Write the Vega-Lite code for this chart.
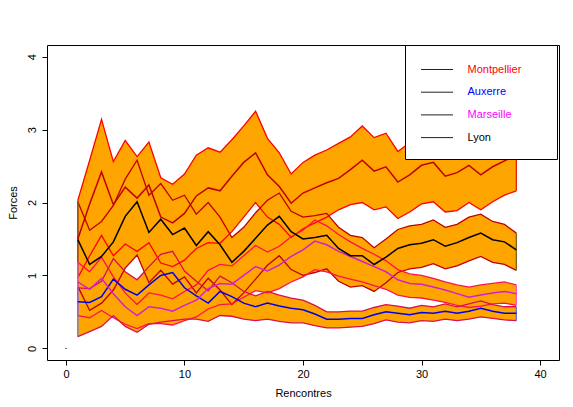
{
"$schema":"https://vega.github.io/schema/vega-lite/v6.json",
"width":512,"height":315,
"autosize":{"type":"none"},
"padding":{"left":47,"top":45,"right":14,"bottom":47},
"background":"white",
"config":{"view":{"stroke":"black","strokeWidth":1},"font":"Liberation Sans",
 "axis":{"grid":false,"domain":false,"tickColor":"black","tickSize":5,"labelColor":"black","titleColor":"black","labelFont":"Liberation Sans","titleFont":"Liberation Sans","labelFontSize":11,"titleFontSize":11,"titleFontWeight":"normal"}},
"datasets":{
"bands":[
{"t":"Montpellier","g":1,"lo":0.97,"m":1.50,"hi":2.03},{"t":"Montpellier","g":2,"lo":1.27,"m":1.98,"hi":2.58},{"t":"Montpellier","g":3,"lo":1.55,"m":2.42,"hi":3.14},{"t":"Montpellier","g":4,"lo":1.27,"m":1.97,"hi":2.56},{"t":"Montpellier","g":5,"lo":1.43,"m":2.21,"hi":2.85},{"t":"Montpellier","g":6,"lo":1.33,"m":2.06,"hi":2.63},{"t":"Montpellier","g":7,"lo":1.45,"m":2.24,"hi":2.83},{"t":"Montpellier","g":8,"lo":1.17,"m":1.80,"hi":2.34},{"t":"Montpellier","g":9,"lo":1.12,"m":1.72,"hi":2.25},{"t":"Montpellier","g":10,"lo":1.21,"m":1.85,"hi":2.39},{"t":"Montpellier","g":11,"lo":1.37,"m":2.09,"hi":2.65},{"t":"Montpellier","g":12,"lo":1.45,"m":2.20,"hi":2.75},{"t":"Montpellier","g":13,"lo":1.44,"m":2.16,"hi":2.69},{"t":"Montpellier","g":14,"lo":1.60,"m":2.36,"hi":2.86},{"t":"Montpellier","g":15,"lo":1.80,"m":2.55,"hi":3.05},{"t":"Montpellier","g":16,"lo":2.00,"m":2.68,"hi":3.25},{"t":"Montpellier","g":17,"lo":1.80,"m":2.38,"hi":2.88},{"t":"Montpellier","g":18,"lo":1.70,"m":2.22,"hi":2.68},{"t":"Montpellier","g":19,"lo":1.52,"m":1.99,"hi":2.39},{"t":"Montpellier","g":20,"lo":1.64,"m":2.13,"hi":2.55},{"t":"Montpellier","g":21,"lo":1.72,"m":2.20,"hi":2.65},{"t":"Montpellier","g":22,"lo":1.80,"m":2.27,"hi":2.72},{"t":"Montpellier","g":23,"lo":1.90,"m":2.33,"hi":2.81},{"t":"Montpellier","g":24,"lo":1.97,"m":2.45,"hi":2.90},{"t":"Montpellier","g":25,"lo":2.00,"m":2.58,"hi":3.05},{"t":"Montpellier","g":26,"lo":1.90,"m":2.43,"hi":2.89},{"t":"Montpellier","g":27,"lo":1.94,"m":2.49,"hi":2.95},{"t":"Montpellier","g":28,"lo":1.78,"m":2.28,"hi":2.70},{"t":"Montpellier","g":29,"lo":1.87,"m":2.38,"hi":2.82},{"t":"Montpellier","g":30,"lo":1.98,"m":2.51,"hi":2.96},{"t":"Montpellier","g":31,"lo":2.01,"m":2.55,"hi":3.00},{"t":"Montpellier","g":32,"lo":1.87,"m":2.36,"hi":2.80},{"t":"Montpellier","g":33,"lo":1.89,"m":2.41,"hi":2.86},{"t":"Montpellier","g":34,"lo":2.00,"m":2.51,"hi":2.96},{"t":"Montpellier","g":35,"lo":1.90,"m":2.38,"hi":2.82},{"t":"Montpellier","g":36,"lo":2.01,"m":2.49,"hi":2.94},{"t":"Montpellier","g":37,"lo":2.10,"m":2.57,"hi":3.02},{"t":"Montpellier","g":38,"lo":2.16,"m":2.65,"hi":3.10},
{"t":"Lyon","g":1,"lo":0.85,"m":1.49,"hi":2.01},{"t":"Lyon","g":2,"lo":0.52,"m":1.15,"hi":1.62},{"t":"Lyon","g":3,"lo":0.62,"m":1.26,"hi":1.74},{"t":"Lyon","g":4,"lo":0.80,"m":1.46,"hi":1.96},{"t":"Lyon","g":5,"lo":1.10,"m":1.81,"hi":2.32},{"t":"Lyon","g":6,"lo":1.28,"m":2.01,"hi":2.58},{"t":"Lyon","g":7,"lo":0.90,"m":1.59,"hi":2.10},{"t":"Lyon","g":8,"lo":1.07,"m":1.77,"hi":2.26},{"t":"Lyon","g":9,"lo":0.88,"m":1.56,"hi":2.03},{"t":"Lyon","g":10,"lo":0.98,"m":1.65,"hi":2.10},{"t":"Lyon","g":11,"lo":0.76,"m":1.41,"hi":1.84},{"t":"Lyon","g":12,"lo":0.96,"m":1.60,"hi":2.00},{"t":"Lyon","g":13,"lo":0.80,"m":1.42,"hi":1.80},{"t":"Lyon","g":14,"lo":0.60,"m":1.18,"hi":1.52},{"t":"Lyon","g":15,"lo":0.76,"m":1.33,"hi":1.66},{"t":"Lyon","g":16,"lo":0.95,"m":1.51,"hi":1.86},{"t":"Lyon","g":17,"lo":1.14,"m":1.69,"hi":2.03},{"t":"Lyon","g":18,"lo":1.27,"m":1.81,"hi":2.13},{"t":"Lyon","g":19,"lo":1.08,"m":1.60,"hi":1.88},{"t":"Lyon","g":20,"lo":1.00,"m":1.50,"hi":1.80},{"t":"Lyon","g":21,"lo":1.04,"m":1.52,"hi":1.82},{"t":"Lyon","g":22,"lo":1.09,"m":1.55,"hi":1.85},{"t":"Lyon","g":23,"lo":0.92,"m":1.37,"hi":1.66},{"t":"Lyon","g":24,"lo":0.84,"m":1.27,"hi":1.55},{"t":"Lyon","g":25,"lo":0.86,"m":1.27,"hi":1.52},{"t":"Lyon","g":26,"lo":0.78,"m":1.15,"hi":1.38},{"t":"Lyon","g":27,"lo":0.90,"m":1.25,"hi":1.50},{"t":"Lyon","g":28,"lo":1.04,"m":1.37,"hi":1.63},{"t":"Lyon","g":29,"lo":1.09,"m":1.42,"hi":1.68},{"t":"Lyon","g":30,"lo":1.11,"m":1.44,"hi":1.70},{"t":"Lyon","g":31,"lo":1.16,"m":1.49,"hi":1.76},{"t":"Lyon","g":32,"lo":1.09,"m":1.40,"hi":1.66},{"t":"Lyon","g":33,"lo":1.13,"m":1.45,"hi":1.70},{"t":"Lyon","g":34,"lo":1.20,"m":1.52,"hi":1.80},{"t":"Lyon","g":35,"lo":1.26,"m":1.58,"hi":1.84},{"t":"Lyon","g":36,"lo":1.18,"m":1.49,"hi":1.74},{"t":"Lyon","g":37,"lo":1.15,"m":1.46,"hi":1.70},{"t":"Lyon","g":38,"lo":1.07,"m":1.35,"hi":1.58},
{"t":"Marseille","g":1,"lo":0.45,"m":0.91,"hi":1.18},{"t":"Marseille","g":2,"lo":0.42,"m":0.81,"hi":1.05},{"t":"Marseille","g":3,"lo":0.52,"m":0.96,"hi":1.25},{"t":"Marseille","g":4,"lo":0.42,"m":0.75,"hi":0.98},{"t":"Marseille","g":5,"lo":0.33,"m":0.57,"hi":0.76},{"t":"Marseille","g":6,"lo":0.27,"m":0.45,"hi":0.60},{"t":"Marseille","g":7,"lo":0.34,"m":0.57,"hi":0.76},{"t":"Marseille","g":8,"lo":0.34,"m":0.55,"hi":0.73},{"t":"Marseille","g":9,"lo":0.32,"m":0.51,"hi":0.68},{"t":"Marseille","g":10,"lo":0.38,"m":0.59,"hi":0.78},{"t":"Marseille","g":11,"lo":0.43,"m":0.66,"hi":0.87},{"t":"Marseille","g":12,"lo":0.54,"m":0.82,"hi":1.07},{"t":"Marseille","g":13,"lo":0.60,"m":0.89,"hi":1.15},{"t":"Marseille","g":14,"lo":0.61,"m":0.88,"hi":1.13},{"t":"Marseille","g":15,"lo":0.70,"m":1.00,"hi":1.27},{"t":"Marseille","g":16,"lo":0.79,"m":1.12,"hi":1.41},{"t":"Marseille","g":17,"lo":0.76,"m":1.06,"hi":1.32},{"t":"Marseille","g":18,"lo":0.82,"m":1.14,"hi":1.40},{"t":"Marseille","g":19,"lo":0.91,"m":1.26,"hi":1.53},{"t":"Marseille","g":20,"lo":0.98,"m":1.35,"hi":1.62},{"t":"Marseille","g":21,"lo":1.08,"m":1.47,"hi":1.76},{"t":"Marseille","g":22,"lo":1.05,"m":1.42,"hi":1.68},{"t":"Marseille","g":23,"lo":0.99,"m":1.33,"hi":1.56},{"t":"Marseille","g":24,"lo":0.95,"m":1.26,"hi":1.46},{"t":"Marseille","g":25,"lo":0.91,"m":1.19,"hi":1.37},{"t":"Marseille","g":26,"lo":0.86,"m":1.12,"hi":1.29},{"t":"Marseille","g":27,"lo":0.81,"m":1.05,"hi":1.20},{"t":"Marseille","g":28,"lo":0.73,"m":0.94,"hi":1.08},{"t":"Marseille","g":29,"lo":0.70,"m":0.89,"hi":1.02},{"t":"Marseille","g":30,"lo":0.69,"m":0.88,"hi":1.00},{"t":"Marseille","g":31,"lo":0.66,"m":0.84,"hi":0.96},{"t":"Marseille","g":32,"lo":0.63,"m":0.80,"hi":0.91},{"t":"Marseille","g":33,"lo":0.59,"m":0.75,"hi":0.87},{"t":"Marseille","g":34,"lo":0.56,"m":0.70,"hi":0.84},{"t":"Marseille","g":35,"lo":0.58,"m":0.73,"hi":0.87},{"t":"Marseille","g":36,"lo":0.61,"m":0.76,"hi":0.89},{"t":"Marseille","g":37,"lo":0.62,"m":0.78,"hi":0.91},{"t":"Marseille","g":38,"lo":0.59,"m":0.75,"hi":0.87},
{"t":"Auxerre","g":1,"lo":0.16,"m":0.64,"hi":0.83},{"t":"Auxerre","g":2,"lo":0.23,"m":0.63,"hi":0.82},{"t":"Auxerre","g":3,"lo":0.30,"m":0.71,"hi":0.92},{"t":"Auxerre","g":4,"lo":0.45,"m":0.95,"hi":1.23},{"t":"Auxerre","g":5,"lo":0.30,"m":0.81,"hi":1.05},{"t":"Auxerre","g":6,"lo":0.22,"m":0.73,"hi":0.94},{"t":"Auxerre","g":7,"lo":0.33,"m":0.87,"hi":1.12},{"t":"Auxerre","g":8,"lo":0.36,"m":1.00,"hi":1.29},{"t":"Auxerre","g":9,"lo":0.38,"m":1.04,"hi":1.33},{"t":"Auxerre","g":10,"lo":0.40,"m":0.83,"hi":1.06},{"t":"Auxerre","g":11,"lo":0.40,"m":0.72,"hi":0.92},{"t":"Auxerre","g":12,"lo":0.37,"m":0.62,"hi":0.79},{"t":"Auxerre","g":13,"lo":0.45,"m":0.78,"hi":0.99},{"t":"Auxerre","g":14,"lo":0.44,"m":0.71,"hi":0.90},{"t":"Auxerre","g":15,"lo":0.40,"m":0.62,"hi":0.78},{"t":"Auxerre","g":16,"lo":0.38,"m":0.57,"hi":0.72},{"t":"Auxerre","g":17,"lo":0.40,"m":0.62,"hi":0.78},{"t":"Auxerre","g":18,"lo":0.37,"m":0.58,"hi":0.73},{"t":"Auxerre","g":19,"lo":0.35,"m":0.55,"hi":0.69},{"t":"Auxerre","g":20,"lo":0.35,"m":0.53,"hi":0.66},{"t":"Auxerre","g":21,"lo":0.31,"m":0.47,"hi":0.59},{"t":"Auxerre","g":22,"lo":0.28,"m":0.40,"hi":0.50},{"t":"Auxerre","g":23,"lo":0.28,"m":0.40,"hi":0.50},{"t":"Auxerre","g":24,"lo":0.29,"m":0.41,"hi":0.51},{"t":"Auxerre","g":25,"lo":0.30,"m":0.41,"hi":0.51},{"t":"Auxerre","g":26,"lo":0.34,"m":0.46,"hi":0.56},{"t":"Auxerre","g":27,"lo":0.39,"m":0.50,"hi":0.60},{"t":"Auxerre","g":28,"lo":0.36,"m":0.48,"hi":0.58},{"t":"Auxerre","g":29,"lo":0.35,"m":0.46,"hi":0.55},{"t":"Auxerre","g":30,"lo":0.38,"m":0.49,"hi":0.59},{"t":"Auxerre","g":31,"lo":0.37,"m":0.48,"hi":0.57},{"t":"Auxerre","g":32,"lo":0.40,"m":0.51,"hi":0.61},{"t":"Auxerre","g":33,"lo":0.38,"m":0.48,"hi":0.57},{"t":"Auxerre","g":34,"lo":0.40,"m":0.51,"hi":0.61},{"t":"Auxerre","g":35,"lo":0.43,"m":0.55,"hi":0.65},{"t":"Auxerre","g":36,"lo":0.41,"m":0.51,"hi":0.60},{"t":"Auxerre","g":37,"lo":0.39,"m":0.48,"hi":0.57},{"t":"Auxerre","g":38,"lo":0.38,"m":0.48,"hi":0.57}
],
"origin":[{"g":0,"v":0}]
},
"layer":[
{"data":{"name":"bands"},"mark":{"type":"area","color":"#FFA500","opacity":1},
 "encoding":{
  "x":{"field":"g","type":"quantitative","scale":{"domain":[-1.6,41.6],"nice":false,"zero":false},
   "axis":{"values":[0,10,20,30,40],"title":"Rencontres","labelPadding":3,"titlePadding":8}},
  "y":{"field":"lo","type":"quantitative","stack":null,"scale":{"domain":[-0.16,4.16],"nice":false,"zero":false},
   "axis":{"values":[0,1,2,3,4],"format":"d","title":"Forces","labelAngle":-90,"labelAlign":"center","labelBaseline":"bottom","labelPadding":5,"titlePadding":8}},
  "y2":{"field":"hi"},
  "detail":{"field":"t"}}},
{"data":{"name":"bands"},"transform":[{"filter":"datum.t === 'Montpellier'"}],"layer":[
 {"transform":[{"fold":["lo","hi"],"as":["k","v"]}],"mark":{"type":"line","color":"#FF0000","strokeWidth":1.3},"encoding":{"x":{"field":"g","type":"quantitative"},"y":{"field":"v","type":"quantitative"},"detail":{"field":"k"}}},
 {"transform":[{"filter":"datum.g == 1 || datum.g == 38"}],"mark":{"type":"rule","color":"#E02000","strokeWidth":1.3},"encoding":{"x":{"field":"g","type":"quantitative"},"y":{"field":"lo","type":"quantitative"},"y2":{"field":"hi"}}}]},
{"data":{"name":"bands"},"transform":[{"filter":"datum.t === 'Lyon'"}],"layer":[
 {"transform":[{"fold":["lo","hi"],"as":["k","v"]}],"mark":{"type":"line","color":"#C00000","strokeWidth":1.3},"encoding":{"x":{"field":"g","type":"quantitative"},"y":{"field":"v","type":"quantitative"},"detail":{"field":"k"}}},
 {"transform":[{"filter":"datum.g == 1 || datum.g == 38"}],"mark":{"type":"rule","color":"#806020","strokeWidth":1.3},"encoding":{"x":{"field":"g","type":"quantitative"},"y":{"field":"lo","type":"quantitative"},"y2":{"field":"hi"}}}]},
{"data":{"name":"bands"},"transform":[{"filter":"datum.t === 'Marseille'"}],"layer":[
 {"transform":[{"fold":["lo","hi"],"as":["k","v"]}],"mark":{"type":"line","color":"#FF1050","strokeWidth":1.3},"encoding":{"x":{"field":"g","type":"quantitative"},"y":{"field":"v","type":"quantitative"},"detail":{"field":"k"}}},
 {"transform":[{"filter":"datum.g == 1 || datum.g == 38"}],"mark":{"type":"rule","color":"#FF50C0","strokeWidth":1.3},"encoding":{"x":{"field":"g","type":"quantitative"},"y":{"field":"lo","type":"quantitative"},"y2":{"field":"hi"}}}]},
{"data":{"name":"bands"},"transform":[{"filter":"datum.t === 'Auxerre'"}],"layer":[
 {"transform":[{"fold":["lo","hi"],"as":["k","v"]}],"mark":{"type":"line","color":"#D81050","strokeWidth":1.3},"encoding":{"x":{"field":"g","type":"quantitative"},"y":{"field":"v","type":"quantitative"},"detail":{"field":"k"}}},
 {"transform":[{"filter":"datum.g == 1 || datum.g == 38"}],"mark":{"type":"rule","color":"#6070E0","strokeWidth":1.3},"encoding":{"x":{"field":"g","type":"quantitative"},"y":{"field":"lo","type":"quantitative"},"y2":{"field":"hi"}}}]},
{"data":{"name":"bands"},"transform":[{"filter":"datum.t === 'Montpellier'"}],"mark":{"type":"line","color":"#C00000","strokeWidth":1.5},"encoding":{"x":{"field":"g","type":"quantitative"},"y":{"field":"m","type":"quantitative"}}},
{"data":{"name":"bands"},"transform":[{"filter":"datum.t === 'Auxerre'"}],"mark":{"type":"line","color":"#0000F0","strokeWidth":1.5},"encoding":{"x":{"field":"g","type":"quantitative"},"y":{"field":"m","type":"quantitative"}}},
{"data":{"name":"bands"},"transform":[{"filter":"datum.t === 'Marseille'"}],"mark":{"type":"line","color":"#D020D0","strokeWidth":1.5},"encoding":{"x":{"field":"g","type":"quantitative"},"y":{"field":"m","type":"quantitative"}}},
{"data":{"name":"bands"},"transform":[{"filter":"datum.t === 'Lyon'"}],"mark":{"type":"line","color":"#000000","strokeWidth":1.5},"encoding":{"x":{"field":"g","type":"quantitative"},"y":{"field":"m","type":"quantitative"}}},
{"data":{"name":"bands"},"transform":[{"filter":"datum.g == 1"}],"mark":{"type":"line","strokeWidth":1},
 "encoding":{"x":{"field":"g","type":"quantitative"},"y":{"field":"m","type":"quantitative"},
  "color":{"field":"t","type":"nominal","scale":{"domain":["Montpellier","Auxerre","Marseille","Lyon"],"range":["#222222","#222222","#222222","#222222"]},
   "legend":{"orient":"none","legendX":358,"legendY":0,"title":" ","titleOrient":"right","titlePadding":19.5,"titleFontSize":1,"padding":16,"strokeColor":"black","fillColor":"white","symbolType":"M-2,0H2","symbolSize":256,"symbolStrokeWidth":1,"symbolOffset":7.5,"labelFont":"Liberation Sans","labelFontSize":11,"labelOffset":22,"rowPadding":8.7,
    "encode":{"labels":{"update":{"fill":{"signal":"datum.value === 'Montpellier' ? '#FF0000' : datum.value === 'Auxerre' ? '#0000FF' : datum.value === 'Marseille' ? '#FF00FF' : '#000000'"}}}}}}}},
{"data":{"name":"origin"},"mark":{"type":"point","filled":true,"size":2,"color":"black","opacity":1},
 "encoding":{"x":{"field":"g","type":"quantitative"},"y":{"field":"v","type":"quantitative"}}}
]
}
